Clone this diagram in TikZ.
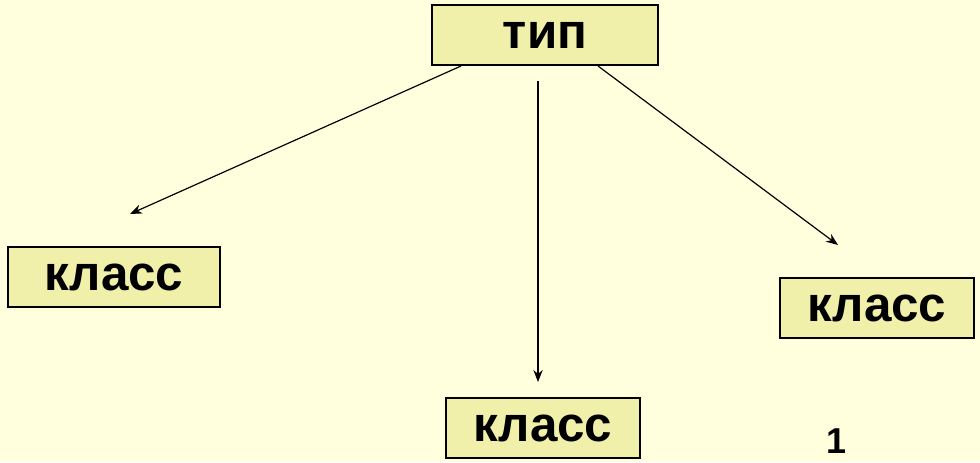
\documentclass[tikz,border=0pt]{standalone}
\usepackage{fontspec}
\setmainfont{Liberation Sans}
\usetikzlibrary{arrows.meta}
\definecolor{bg}{HTML}{FFFFDD}
\definecolor{boxfill}{HTML}{F0F0AA}
\tikzset{
  px/.style={x=0.75pt,y=-0.75pt},
  box/.style={draw=black,line width=1.5pt,fill=boxfill,minimum height=45pt,inner sep=0pt,
    font=\fontsize{37}{42}\selectfont\bfseries},
  conn/.style={line width=0.9pt,-{Stealth[length=9pt,width=7pt]}}
}
\begin{document}
\begin{tikzpicture}[px]
\fill[bg] (0,0) rectangle (980,462);
\useasboundingbox (0,0) rectangle (980,462);
\node[box,minimum width=169pt] (tip) at (545,35) {тип};
\node[box,minimum width=159pt] (k1) at (114,277) {класс};
\node[box,minimum width=145pt] (k2) at (543,428) {класс};
\node[box,minimum width=146pt] (k3) at (877,308) {класс};
\node[font=\fontsize{27}{30}\selectfont\bfseries] (num) at (836,441) {1};
\coordinate (a1s) at (461,66);
\coordinate (a1e) at (130,214);
\coordinate (a2s) at (538,81);
\coordinate (a2e) at (538,382);
\coordinate (a3s) at (598,66);
\coordinate (a3e) at (838,245);
\draw[conn] (a1s) -- (a1e);
\draw[conn] (a2s) -- (a2e);
\draw[conn] (a3s) -- (a3e);
\end{tikzpicture}
\end{document}
